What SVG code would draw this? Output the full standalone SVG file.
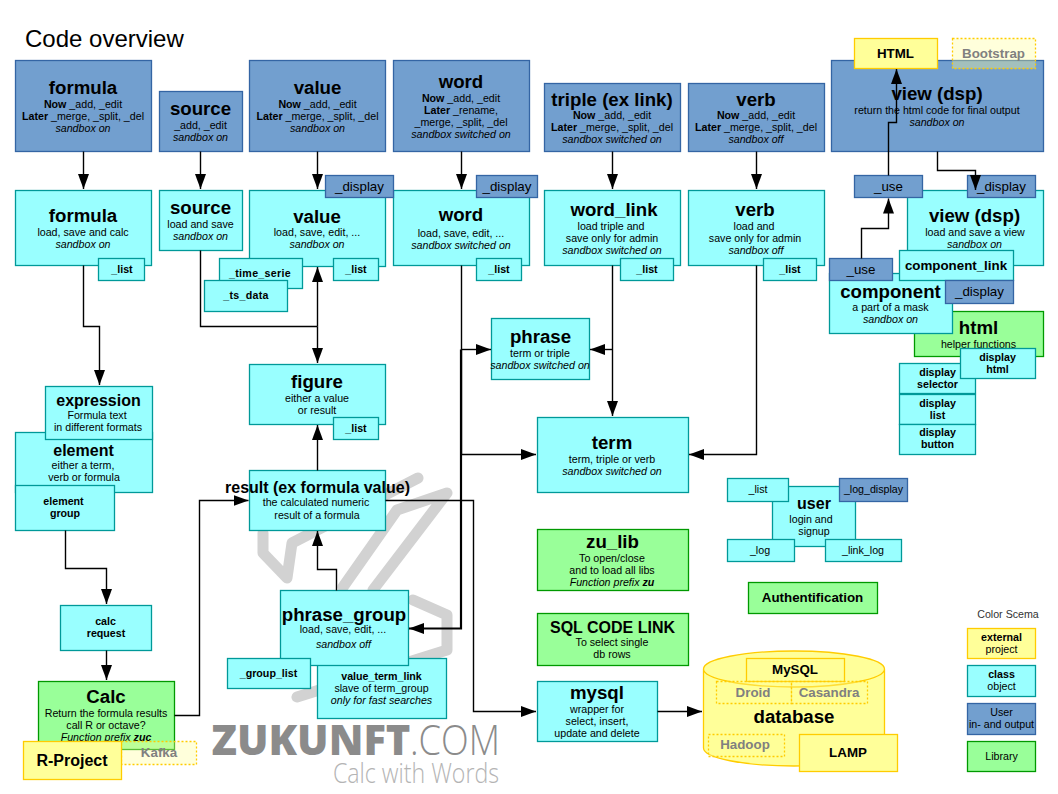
<svg xmlns="http://www.w3.org/2000/svg" width="1058" height="794" viewBox="0 0 1058 794">
<style>
text{font-family:"Liberation Sans",Arial,sans-serif;font-size:10.67px;text-anchor:middle;fill:#000}
rect{stroke-width:1.3}
.b{fill:#729fcf;stroke:#3465a4}
.c{fill:#9ff;stroke:#009999}
.g{fill:#9f9;stroke:#090}
.y{fill:#ff9;stroke:#fc0}
.d{fill:#ff9;fill-opacity:.35;stroke:#fc0;stroke-dasharray:2 2}
.h{font-size:18.67px;font-weight:bold}
.m{font-size:16px;font-weight:bold}
.s{font-size:13.33px;font-weight:bold}
.f{font-size:13.33px;font-weight:bold;fill:#808080}
.n{font-size:13.33px}
.o{font-weight:bold}
.w{letter-spacing:.3px}
.i{font-style:italic}
.con{fill:none;stroke:#000;stroke-width:1.4}
.wm{fill:none;stroke:#d2d2d2;stroke-width:11;stroke-linejoin:round;stroke-linecap:round}
</style>
<defs>
<marker id="a" markerUnits="userSpaceOnUse" markerWidth="16" markerHeight="12" refX="15" refY="5.5" orient="auto"><path d="M0 0L15 5.5L0 11z" fill="#000"/></marker>
</defs>
<text x="25" y="47" style="font-size:24px;text-anchor:start">Code overview</text>
<g id="watermark">
<path class="wm" d="M263 533V553L287 578L292 543L418 478"/>
<path class="wm" d="M343 587L397 510L447 493L373 590"/>
<path class="wm" d="M413 600L447 615V650L297 697"/>
<text x="311" y="755" textLength="199" lengthAdjust="spacingAndGlyphs" style="font-family:'Open Sans',sans-serif;font-size:42px;font-weight:800;fill:#8b8b8b">ZUKUNFT</text>
<text x="455" y="755" textLength="90" lengthAdjust="spacingAndGlyphs" style="font-family:'Open Sans',sans-serif;font-size:42px;font-weight:300;fill:#8b8b8b">.COM</text>
<text x="416" y="783" textLength="166" lengthAdjust="spacingAndGlyphs" style="font-family:'Open Sans',sans-serif;font-size:27px;font-weight:300;fill:#b4b4b4">Calc with Words</text>
</g>
<g id="formula-ui"><rect class="b" x="15.5" y="60.5" width="136" height="91"/><text class="h" x="83" y="94">formula</text><text x="83" y="108"><tspan class="o">Now</tspan> _add, _edit</text><text x="83" y="120"><tspan class="o">Later</tspan> _merge, _split, _del</text><text class="i" x="83" y="132">sandbox on</text></g>
<g id="source-ui"><rect class="b" x="159.5" y="91.5" width="83" height="60"/><text class="h" x="200.5" y="115">source</text><text x="200.5" y="129">_add, _edit</text><text class="i" x="200.5" y="141">sandbox on</text></g>
<g id="value-ui"><rect class="b" x="249.5" y="60.5" width="136" height="91"/><text class="h" x="317.5" y="94">value</text><text x="317.5" y="108"><tspan class="o">Now</tspan> _add, _edit</text><text x="317.5" y="120"><tspan class="o">Later</tspan> _merge, _split, _del</text><text class="i" x="317.5" y="132">sandbox on</text></g>
<g id="word-ui"><rect class="b" x="393.5" y="60.5" width="136" height="91"/><text class="h" x="461" y="88">word</text><text x="461" y="102"><tspan class="o">Now</tspan> _add, _edit</text><text x="461" y="114"><tspan class="o">Later</tspan> _rename,</text><text x="461" y="126">_merge, _split, _del</text><text class="i" x="461" y="138">sandbox switched on</text></g>
<g id="triple-ui"><rect class="b" x="544.5" y="83.5" width="136" height="68"/><text class="h" x="612" y="106">triple (ex link)</text><text x="612" y="119"><tspan class="o">Now</tspan> _add, _edit</text><text x="612" y="131"><tspan class="o">Later</tspan> _merge, _split, _del</text><text class="i" x="612" y="143">sandbox switched on</text></g>
<g id="verb-ui"><rect class="b" x="688.5" y="83.5" width="136" height="68"/><text class="h" x="756" y="106">verb</text><text x="756" y="119"><tspan class="o">Now</tspan> _add, _edit</text><text x="756" y="131"><tspan class="o">Later</tspan> _merge, _split, _del</text><text class="i" x="756" y="143">sandbox off</text></g>
<g id="view-ui"><rect class="b" x="831.5" y="60.5" width="212" height="91"/><text class="h" x="937" y="100">view (dsp)</text><text x="937" y="114">return the html code for final output</text><text class="i" x="937" y="126">sandbox on</text></g>
<g id="html-ext"><rect class="y" x="854.5" y="38.5" width="83" height="30"/><text class="s" x="895.5" y="58">HTML</text></g>
<g id="bootstrap"><rect class="d" x="952.5" y="38.5" width="83" height="30"/><text class="f" x="993.5" y="58">Bootstrap</text></g>

<g id="formula"><rect class="c" x="15.5" y="190.5" width="136" height="75"/><text class="h" x="83" y="222">formula</text><text x="83" y="236">load, save and calc</text><text class="i" x="83" y="248">sandbox on</text></g>
<g id="formula-list"><rect class="c" x="98.5" y="258.5" width="46" height="22"/><text class="o" x="122" y="273">_list</text></g>
<g id="source"><rect class="c" x="159.5" y="190.5" width="83" height="60"/><text class="h" x="200.5" y="214">source</text><text x="200.5" y="228">load and save</text><text class="i" x="200.5" y="240">sandbox on</text></g>
<g id="value"><rect class="c" x="249.5" y="190.5" width="136" height="76"/><text class="h" x="317" y="223">value</text><text x="317" y="236">load, save, edit, ...</text><text class="i" x="317" y="248">sandbox on</text></g>
<g id="word"><rect class="c" x="393.5" y="190.5" width="136" height="75"/><text class="h" x="461" y="221">word</text><text x="461" y="237">load, save, edit, ...</text><text class="i" x="461" y="249">sandbox switched on</text></g>
<g id="value-display"><rect class="b" x="325.5" y="175.5" width="68" height="22"/><text class="n" x="359.5" y="191">_display</text></g>
<g id="word-display"><rect class="b" x="476.5" y="175.5" width="61" height="22"/><text class="n" x="507" y="191">_display</text></g>
<g id="time-serie"><rect class="c" x="219.5" y="258.5" width="83" height="30"/><text class="o w" x="260" y="277">_time_serie</text></g>
<g id="ts-data"><rect class="c" x="204.5" y="280.5" width="83" height="31"/><text class="o w" x="246" y="299">_ts_data</text></g>
<g id="value-list"><rect class="c" x="333.5" y="258.5" width="45" height="22"/><text class="o" x="356" y="273">_list</text></g>
<g id="word-list"><rect class="c" x="476.5" y="258.5" width="45" height="22"/><text class="o" x="499" y="273">_list</text></g>
<g id="word-link"><rect class="c" x="544.5" y="190.5" width="136" height="75"/><text class="h" x="614" y="216">word_link</text><text x="611" y="230">load triple and</text><text x="612" y="242">save only for admin</text><text class="i" x="612" y="254">sandbox switched on</text></g>
<g id="word-link-list"><rect class="c" x="620.5" y="258.5" width="53" height="22"/><text class="o" x="647" y="273">_list</text></g>
<g id="verb"><rect class="c" x="688.5" y="190.5" width="136" height="75"/><text class="h" x="755" y="216">verb</text><text x="754" y="230">load and</text><text x="755" y="242">save only for admin</text><text class="i" x="756" y="254">sandbox off</text></g>
<g id="verb-list"><rect class="c" x="763.5" y="258.5" width="53" height="22"/><text class="o" x="790" y="273">_list</text></g>
<g id="view"><rect class="c" x="907.5" y="190.5" width="136" height="75"/><text class="h" x="974.5" y="222">view (dsp)</text><text x="975" y="236">load and save a view</text><text class="i" x="974.5" y="248">sandbox on</text></g>
<g id="view-use"><rect class="b" x="854.5" y="175.5" width="68" height="22"/><text class="n" x="888.5" y="191">_use</text></g>
<g id="view-display"><rect class="b" x="967.5" y="175.5" width="68" height="22"/><text class="n" x="1001.5" y="191">_display</text></g>
<g id="html"><rect class="g" x="914.5" y="311.5" width="129" height="45"/><text class="h" x="978.5" y="334">html</text><text x="978.5" y="348">helper functions</text></g>
<g id="component"><rect class="c" x="829.5" y="273.5" width="123" height="60"/><text class="h" x="890.5" y="298">component</text><text x="890.5" y="311">a part of a mask</text><text class="i" x="890.5" y="323">sandbox on</text></g>
<g id="component-use"><rect class="b" x="829.5" y="258.5" width="63" height="22"/><text class="n" x="861" y="274">_use</text></g>
<g id="component-link"><rect class="c" x="899.5" y="250.5" width="114" height="30"/><text class="s" x="956" y="270">component_link</text></g>
<g id="component-display"><rect class="b" x="945.5" y="280.5" width="68" height="23"/><text class="n" x="979.5" y="296">_display</text></g>
<g id="display-selector"><rect class="c" x="899.5" y="363.5" width="76" height="30"/><text class="o" x="937.5" y="376">display</text><text class="o" x="937.5" y="388">selector</text></g>
<g id="display-list"><rect class="c" x="899.5" y="394.5" width="76" height="30"/><text class="o" x="937.5" y="407">display</text><text class="o" x="937.5" y="419">list</text></g>
<g id="display-button"><rect class="c" x="899.5" y="424.5" width="76" height="30"/><text class="o" x="937.5" y="436">display</text><text class="o" x="937.5" y="448">button</text></g>
<g id="display-html"><rect class="c" x="960.5" y="348.5" width="75" height="30"/><text class="o" x="997.5" y="361">display</text><text class="o" x="997.5" y="373">html</text></g>

<g id="phrase"><rect class="c" x="491.5" y="318.5" width="98" height="61"/><text class="h" x="540.5" y="343">phrase</text><text x="540" y="357">term or triple</text><text class="i" x="540" y="369">sandbox switched on</text></g>
<g id="figure"><rect class="c" x="249.5" y="364.5" width="136" height="60"/><text class="h" x="317" y="388">figure</text><text x="317" y="402">either a value</text><text x="317" y="414">or result</text></g>
<g id="figure-list"><rect class="c" x="333.5" y="417.5" width="45" height="22"/><text class="o" x="356" y="432">_list</text></g>
<g id="term"><rect class="c" x="537.5" y="417.5" width="151" height="75"/><text class="h" x="612" y="449">term</text><text x="612" y="463">term, triple or verb</text><text class="i" x="612" y="475">sandbox switched on</text></g>
<g id="element"><rect class="c" x="15.5" y="432.5" width="137" height="60"/><text class="m" x="83.5" y="456">element</text><text x="83" y="469">either a term,</text><text x="84" y="481">verb or formula</text></g>
<g id="expression"><rect class="c" x="45.5" y="386.5" width="107" height="53"/><text class="m" x="98.5" y="406">expression</text><text x="97" y="419">Formula text</text><text x="98" y="431">in different formats</text></g>
<g id="element-group"><rect class="c" x="15.5" y="485.5" width="99" height="45"/><text class="o" x="63.5" y="505">element</text><text class="o" x="65" y="517">group</text></g>
<g id="result"><rect class="c" x="249.5" y="470.5" width="136" height="60"/><text class="m" x="317.5" y="493">result (ex formula value)</text><text x="316" y="506">the calculated numeric</text><text x="317" y="519">result of a formula</text></g>
<g id="calc-request"><rect class="c" x="60.5" y="605.5" width="91" height="45"/><text class="o" x="105.5" y="625">calc</text><text class="o" x="106" y="637">request</text></g>
<g id="value-term-link"><rect class="c" x="317.5" y="658.5" width="129" height="60"/><text class="o" x="381.5" y="680">value_term_link</text><text x="381.5" y="692">slave of term_group</text><text class="i" x="381.5" y="704">only for fast searches</text></g>
<g id="phrase-group"><rect class="c" x="280.5" y="590.5" width="128" height="75"/><text class="h" x="344" y="621">phrase_group</text><text x="343" y="633">load, save, edit, ...</text><text class="i" x="343.5" y="648">sandbox off</text></g>
<g id="group-list"><rect class="c" x="227.5" y="658.5" width="83" height="30"/><text class="o" x="268.5" y="677">_group_list</text></g>
<g id="calc"><rect class="g" x="38.5" y="681.5" width="136" height="68"/><text class="h" x="106" y="703">Calc</text><text x="106" y="717">Return the formula results</text><text x="106" y="729">call R or octave?</text><text class="i" x="106" y="741">Function prefix <tspan class="o">zuc</tspan></text></g>
<g id="kafka"><rect class="d" x="121.5" y="741.5" width="75" height="23"/><text class="f" x="159" y="757">Kafka</text></g>
<g id="r-project"><rect class="y" x="23.5" y="741.5" width="98" height="38"/><text class="m" x="72" y="766">R-Project</text></g>
<g id="zu-lib"><rect class="g" x="537.5" y="529.5" width="151" height="61"/><text class="h" x="612.5" y="548">zu_lib</text><text x="612" y="562">To open/close</text><text x="612" y="574">and to load all libs</text><text class="i" x="612" y="586">Function prefix <tspan class="o">zu</tspan></text></g>
<g id="sql-code-link"><rect class="g" x="537.5" y="613.5" width="151" height="52"/><text class="m" x="612.5" y="633">SQL CODE LINK</text><text x="612" y="646">To select single</text><text x="612" y="658">db rows</text></g>
<g id="mysql"><rect class="c" x="537.5" y="681.5" width="120" height="60"/><text class="h" x="597" y="699">mysql</text><text x="597" y="713">wrapper for</text><text x="597" y="725">select, insert,</text><text x="597" y="737">update and delete</text></g>
<g id="user"><rect class="c" x="772.5" y="486.5" width="83" height="60"/><text class="m" x="814" y="509">user</text><text x="811" y="523">login and</text><text x="814" y="535">signup</text></g>
<g id="user-list"><rect class="c" x="727.5" y="478.5" width="61" height="23"/><text x="758" y="493">_list</text></g>
<g id="log-display"><rect class="b" x="839.5" y="478.5" width="68" height="23"/><text x="873.5" y="493">_log_display</text></g>
<g id="log"><rect class="c" x="727.5" y="539.5" width="67" height="22"/><text x="760" y="554">_log</text></g>
<g id="link-log"><rect class="c" x="825.5" y="539.5" width="76" height="22"/><text x="863" y="554">_link_log</text></g>
<g id="authentification"><rect class="g" x="748.5" y="582.5" width="129" height="31"/><text class="s" x="812.5" y="602">Authentification</text></g>
<g id="database"><path class="y" stroke-width="1.3" d="M703.5 669V748C703.5 758 744 766 794 766S884.5 758 884.5 748V669C884.5 659 844 651 794 651S703.5 659 703.5 669C703.5 679 744 687 794 687S884.5 679 884.5 669"/><text class="h" x="794" y="723">database</text></g>
<g id="mysql-ext"><rect class="y" x="746.5" y="658.5" width="98" height="23" style="fill-opacity:.9"/><text class="s" x="795" y="674">MySQL</text></g>
<g id="droid"><rect class="d" x="716.5" y="681.5" width="75" height="22"/><text class="f" x="753" y="697">Droid</text></g>
<g id="casandra"><rect class="d" x="791.5" y="681.5" width="76" height="22"/><text class="f" x="829" y="697">Casandra</text></g>
<g id="hadoop"><rect class="d" x="708.5" y="734.5" width="76" height="22"/><text class="f" x="745" y="749">Hadoop</text></g>
<g id="lamp"><rect class="y" x="799.5" y="734.5" width="98" height="37"/><text class="s" x="848" y="757">LAMP</text></g>
<g id="legend">
<text x="1008" y="618" style="fill:#333">Color Scema</text>
<rect class="y" x="967.5" y="628.5" width="68" height="30"/><text class="o" x="1001.5" y="641">external</text><text x="1001.5" y="653">project</text>
<rect class="c" x="967.5" y="665.5" width="68" height="31"/><text class="o" x="1001.5" y="678">class</text><text x="1001.5" y="690">object</text>
<rect class="b" x="967.5" y="703.5" width="68" height="31"/><text x="1001.5" y="716">User</text><text x="1001.5" y="728">in- and output</text>
<rect class="g" x="967.5" y="741.5" width="68" height="30"/><text x="1001.5" y="760">Library</text>
</g>
<g id="connectors" class="con">
<path marker-end="url(#a)" d="M83.5 151.5V189"/>
<path marker-end="url(#a)" d="M200.5 151.5V189"/>
<path marker-end="url(#a)" d="M317.5 151.5V189"/>
<path marker-end="url(#a)" d="M461.5 151.5V189"/>
<path marker-end="url(#a)" d="M612.5 151.5V189"/>
<path marker-end="url(#a)" d="M756.5 151.5V189"/>
<path marker-end="url(#a)" d="M937.5 151.5V170.5H975.5V190"/>
<path marker-end="url(#a)" d="M888.5 175.5V122.5H896.5V69"/>
<path marker-end="url(#a)" d="M861.5 258.5V228.5H888.5V198.5"/>
<path marker-end="url(#a)" d="M83.5 265.5V326.5H99.5V385"/>
<path d="M200.5 250.5V326.5H317.5"/>
<path marker-end="url(#a)" d="M317.5 326.5V267"/>
<path marker-end="url(#a)" d="M317.5 326.5V363"/>
<path marker-end="url(#a)" d="M317.5 470.5V425"/>
<path marker-end="url(#a)" d="M336.5 590.5V569.5H317.5V531"/>
<path marker-end="url(#a)" d="M174.5 715.5H199.5V500.5H248.5"/>
<path marker-end="url(#a)" d="M385.5 500.5H473.5V711.5H536"/>
<path marker-end="url(#a)" d="M657.5 711.5H702"/>
<path marker-end="url(#a)" d="M461.5 265.5V454.5H536"/>
<path marker-end="url(#a)" d="M461 349.5H491"/>
<path marker-end="url(#a)" d="M461 349.5V628.5H409" style="stroke-width:2.2"/>
<path marker-end="url(#a)" d="M612.5 265.5V416"/>
<path marker-end="url(#a)" d="M612.5 349.5H590"/>
<path marker-end="url(#a)" d="M756.5 265.5V454.5H689"/>
<path marker-end="url(#a)" d="M65.5 530.5V568.5H106.5V604"/>
<path marker-end="url(#a)" d="M106.5 650.5V680"/>
</g>
</svg>
